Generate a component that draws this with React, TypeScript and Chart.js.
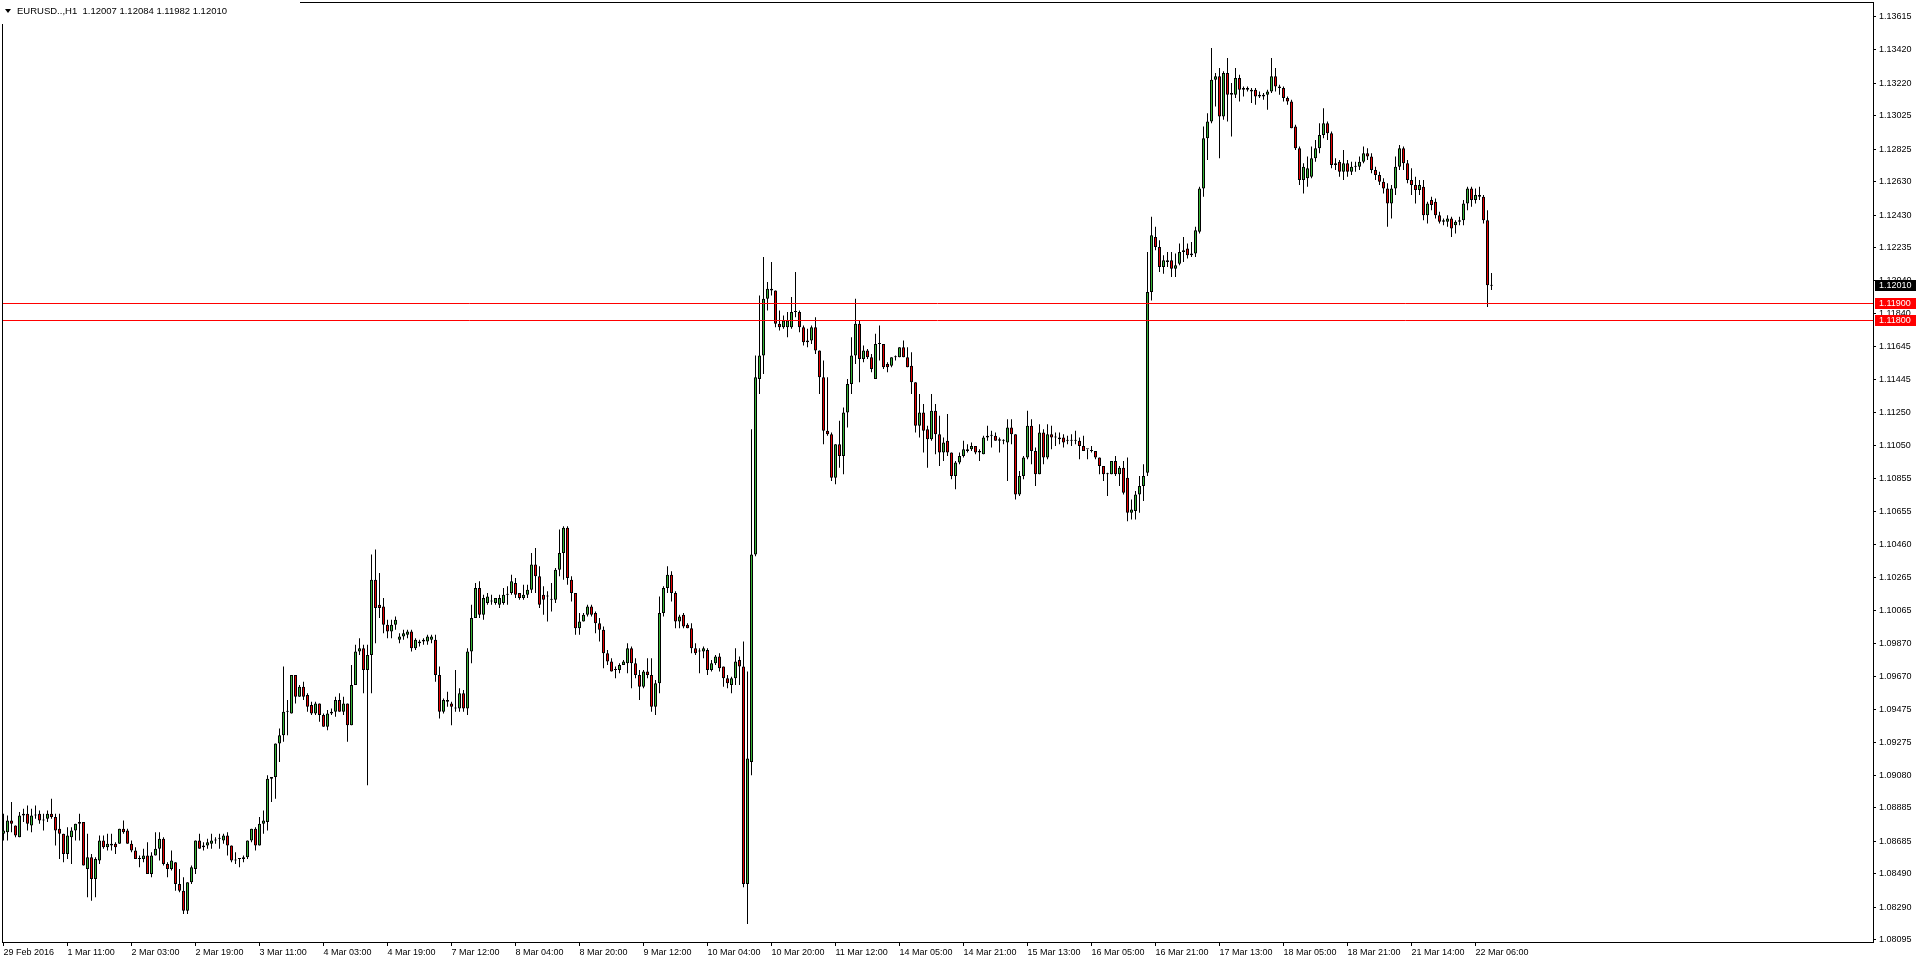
import React, { useEffect, useRef } from 'react';
import { Chart, registerables } from 'chart.js';

Chart.register(...registerables);

// Prices are stored in pips above PRICE_BASE (price = PRICE_BASE + value * PIP)
const PRICE_BASE = 1.08;
const PIP = 0.0001;

const opens = [
  73,74,81,78,71,84,85,78,84,85,
  81,82,85,83,76,73,61,71,75,79,
  80,52,59,46,57,69,65,66,67,67,
  76,75,67,63,58,58,60,49,60,64,
  70,55,52,56,43,39,27,44,52,69,
  65,66,67,69,70,69,72,66,57,58,
  58,59,69,76,66,79,80,106,107,127,
  132,146,145,168,155,161,156,150,145,151,
  144,137,145,146,153,146,151,138,162,182,
  184,171,180,225,210,209,198,194,198,189,
  191,192,194,184,188,188,188,189,189,168,
  146,153,151,148,148,157,148,182,202,220,
  204,211,212,211,210,211,216,217,223,217,
  214,216,219,234,227,216,215,213,213,231,
  241,256,225,217,196,200,204,209,205,199,
  195,181,176,171,171,174,175,184,175,168,
  161,170,168,149,163,205,220,228,217,200,
  204,198,196,184,182,182,183,171,175,179,
  173,166,162,166,177,173,43,116,240,345,
  359,393,399,398,378,376,376,376,385,385,
  376,368,368,376,362,346,314,312,286,306,
  299,325,342,359,378,357,362,358,345,366,
  366,354,353,358,358,364,358,353,343,317,
  325,315,309,326,312,301,308,301,287,295,
  299,302,303,305,302,300,310,311,311,309,
  308,307,316,312,276,287,298,317,302,288,
  313,298,312,310,310,310,308,308,308,308,
  305,303,302,302,298,293,288,288,296,288,
  292,286,265,266,276,281,289,397,430,424,
  412,416,416,411,414,421,423,419,420,433,
  459,489,499,524,526,502,528,515,515,525,
  518,519,517,518,515,514,515,517,526,520,
  519,513,511,496,483,464,465,466,477,483,
  491,498,492,473,475,469,474,469,472,472,
  475,480,478,470,467,463,459,450,459,472,
  483,474,464,461,458,460,443,452,451,443,
  440,439,441,437,439,440,450,459,452,455,
  454,440,400.7,
];

const highs = [
  85,84,92,78,86,88,90,88,90,87,
  85,87,94,85,85,73,77,77,79,85,
  80,73,61,59,72,72,73,73,68,76,
  81,76,69,65,60,64,68,62,74,74,
  71,56,63,56,52,47,44,54,69,73,
  68,70,73,71,73,73,74,66,62,58,
  60,69,76,77,83,87,108,107,127,136,
  173,153,168,168,162,164,157,152,152,151,
  145,147,148,155,157,155,151,174,186,190,
  186,186,240,243,229,214,201,201,203,193,
  195,195,195,190,189,190,192,192,192,173,
  154,158,152,171,160,159,184,210,223,224,
  216,217,216,214,216,220,221,228,226,217,
  222,222,241,244,233,221,218,223,232,255,
  257,257,227,217,205,205,210,210,206,202,
  197,183,178,173,175,177,187,185,178,171,
  171,178,178,165,215,221,233,230,218,204,
  205,199,199,187,184,185,184,177,180,181,
  173,168,167,184,179,188,170,315,359,395,
  418,403,415,398,386,383,385,394,409,386,
  377,375,377,382,362,356,346,313,306,320,
  328,345,370,393,380,365,363,360,372,377,
  366,355,358,359,364,368,364,361,343,336,
  330,317,336,330,323,310,324,301,296,301,
  308,306,307,305,303,311,317,314,313,310,
  309,321,321,312,290,299,326,321,304,318,
  315,318,317,313,313,312,311,312,314,310,
  311,303,305,302,298,293,289,296,299,293,
  296,298,273,278,287,294,421,442,436,428,
  419,421,421,420,426,430,426,427,436,460,
  496,504,543,528,531,529,537,522,531,527,
  520,520,519,519,517,516,518,537,531,521,
  520,514,512,497,484,474,478,484,488,498,
  507,499,493,477,476,482,476,475,475,478,
  484,483,480,472,469,465,462,461,478,485,
  484,476,471,466,464,464,451,454,453,445,
  441,443,442,440,442,452,460,460,459,460,
  455,446,408.4,
];

const lows = [
  69,69,74,71,71,80,75,74,82,79,
  75,80,82,66,58,56,58,55,69,69,
  54,35,33,35,55,64,63,63,61,67,
  73,67,62,58,53,56,49,47,60,57,
  54,47,51,39,38,25,25,43,49,64,
  63,64,64,67,64,67,60,56,55,53,
  56,58,68,63,66,73,75,92,94,116,
  128,132,145,151,155,153,146,144,144,140,
  137,135,144,143,146,144,128,138,162,180,
  157,102,157,187,202,193,190,190,195,187,
  189,190,182,183,185,186,186,187,164,142,
  145,149,138,146,146,146,144,175,202,202,
  201,210,210,210,208,210,210,216,214,213,
  213,214,217,217,208,204,200,206,211,227,
  225,222,212,192,192,200,203,203,193,188,
  172,174,170,166,169,174,169,160,166,153,
  160,166,146,144,157,203,217,212,196,196,
  196,196,181,180,169,178,168,170,174,170,
  161,160,157,162,162,41,19,108,239,336,
  348,386,395,376,374,375,370,375,382,373,
  365,364,366,360,336,306,311,284,282,292,
  288,316,336,354,343,355,357,349,345,356,
  351,349,352,356,358,358,352,336,313,310,
  301,292,308,300,293,296,299,285,279,294,
  298,301,302,300,296,300,308,304,308,301,
  306,284,306,273,275,285,297,294,281,288,
  294,297,303,305,306,304,306,305,306,297,
  302,297,301,297,288,284,275,288,287,281,
  276,260,261,261,265,272,287,392,422,409,
  408,412,406,406,413,415,417,418,418,432,
  454,476,498,508,477,500,499,490,513,511,
  514,517,510,509,513,512,506,516,517,515,
  511,509,495,482,461,456,460,465,475,480,
  489,488,471,470,466,464,466,467,469,470,
  474,476,468,464,461,456,436,441,455,470,
  470,462,455,450,455,440,438,446,441,438,
  437,436,430,432,437,437,446,448,450,452,
  438,388,398.2,
];

const closes = [
  75,81,79,72,84,85,79,84,84,81,
  81,85,83,75,73,61,72,75,79,80,
  54,59,46,58,69,65,67,67,65,76,
  74,67,63,58,58,60,49,60,64,70,
  55,52,57,43,39,27,44,53,69,64,
  66,68,69,69,70,72,66,57,57,58,
  59,69,76,66,79,81,106,107,127,132,
  146,146,168,155,161,155,149,145,151,144,
  137,145,146,153,146,151,138,162,182,184,
  171,180,225,208,208,198,194,198,201,191,
  193,194,184,189,187,189,191,191,168,146,
  153,152,149,148,157,148,182,202,220,204,
  214,215,212,214,214,216,216,224,216,214,
  216,219,234,227,210,213,215,213,231,241,
  256,226,217,196,200,204,209,204,199,195,
  181,176,170,171,174,176,184,175,168,161,
  170,168,149,163,205,220,228,217,200,203,
  197,196,184,181,182,184,171,175,179,172,
  166,163,166,176,173,43,118,240,346,359,
  393,399,398,378,376,380,380,385,385,376,
  367,367,376,362,346,314,312,286,306,299,
  325,342,359,378,357,362,358,351,366,366,
  352,352,358,358,364,358,352,343,317,325,
  314,309,326,312,301,307,301,287,295,299,
  303,303,305,301,301,310,311,311,308,308,
  308,316,312,276,287,298,317,302,288,313,
  298,312,310,310,309,307,308,308,308,305,
  302,303,302,298,293,288,288,296,288,292,
  277,265,267,276,281,287,397,431,424,412,
  416,415,411,413,421,422,419,420,434,459,
  489,499,524,526,502,528,515,516,525,518,
  519,518,518,514,514,515,517,526,520,519,
  513,511,495,483,464,472,471,477,483,491,
  498,492,473,474,469,474,469,472,472,475,
  480,478,470,467,463,459,450,459,472,483,
  474,464,461,458,461,443,450,449,443,439,
  439,441,435,439,440,450,459,452,455,454,
  440,401,401,
];

const xTickLabels = [
  '29 Feb 2016', '1 Mar 11:00', '2 Mar 03:00', '2 Mar 19:00', '3 Mar 11:00', '4 Mar 03:00',
  '4 Mar 19:00', '7 Mar 12:00', '8 Mar 04:00', '8 Mar 20:00', '9 Mar 12:00', '10 Mar 04:00',
  '10 Mar 20:00', '11 Mar 12:00', '14 Mar 05:00', '14 Mar 21:00', '15 Mar 13:00', '16 Mar 05:00',
  '16 Mar 21:00', '17 Mar 13:00', '18 Mar 05:00', '18 Mar 21:00', '21 Mar 14:00', '22 Mar 06:00',
];
const BARS_PER_TIME_LABEL = 16;

const yTickLabels = [
  '1.13615', '1.13420', '1.13220', '1.13025', '1.12825', '1.12630', '1.12430', '1.12235',
  '1.12040', '1.11840', '1.11645', '1.11445', '1.11250', '1.11050', '1.10855', '1.10655',
  '1.10460', '1.10265', '1.10065', '1.09870', '1.09670', '1.09475', '1.09275', '1.09080',
  '1.08885', '1.08685', '1.08490', '1.08290', '1.08095',
];

const levelLines = [1.119, 1.118];
const symbolLabel = 'EURUSD..,H1';

// view window (MT4 style: fixed bar spacing, empty space to the right)
const X_MIN = -0.375;
const X_MAX = 467.375;
const Y_MIN = 1.08083;
const Y_MAX = 1.137047;

const BULL = '#36b436';
const BEAR = '#e60000';
const FONT = "'Liberation Sans', Arial, sans-serif";

const toPrice = (p: number) => PRICE_BASE + p * PIP;
const fmt = (p: number) => toPrice(p).toFixed(5);

const overlayPlugin = {
  id: 'mt4overlay',
  afterDatasetsDraw(chart: any) {
    const { ctx, chartArea: a, scales } = chart;
    const ys = scales.y;
    ctx.save();
    ctx.strokeStyle = '#ff0000';
    ctx.lineWidth = 1;
    levelLines.forEach((v) => {
      const py = Math.floor(ys.getPixelForValue(v)) + 0.5;
      ctx.beginPath();
      ctx.moveTo(a.left, py);
      ctx.lineTo(a.right, py);
      ctx.stroke();
    });
    ctx.restore();
  },
  afterDraw(chart: any) {
    const { ctx, chartArea: a, scales, width } = chart;
    const ys = scales.y;
    ctx.save();
    // frame
    ctx.strokeStyle = '#000';
    ctx.lineWidth = 1;
    ctx.strokeRect(a.left + 0.5, a.top + 0.5, a.right - a.left, a.bottom - a.top);

    // price markers on the axis
    ctx.font = `9px ${FONT}`;
    ctx.textBaseline = 'middle';
    ctx.textAlign = 'left';
    const drawBox = (value: number, bg: string, text: string) => {
      const py = Math.floor(ys.getPixelForValue(value));
      ctx.fillStyle = bg;
      ctx.fillRect(a.right + 2, py - 5, width - a.right - 2, 11);
      ctx.fillStyle = '#fff';
      ctx.fillText(text, a.right + 6, py + 0.5);
    };
    levelLines.forEach((v) => drawBox(v, '#ff0000', v.toFixed(5)));
    const last = closes.length - 1;
    drawBox(toPrice(closes[last]), '#000', fmt(closes[last]));

    // symbol label
    ctx.fillStyle = '#fff';
    ctx.fillRect(0, 0, 300, 24);
    ctx.fillStyle = '#000';
    ctx.beginPath();
    ctx.moveTo(5, 9);
    ctx.lineTo(11, 9);
    ctx.lineTo(8, 13);
    ctx.closePath();
    ctx.fill();
    ctx.font = `9.5px ${FONT}`;
    const txt = `${symbolLabel}  ${fmt(opens[last])} ${fmt(highs[last])} ${fmt(lows[last])} ${fmt(closes[last])}`;
    ctx.fillText(txt, 17, 11);
    ctx.restore();
  },
};

export default function App() {
  const ref = useRef<HTMLCanvasElement>(null);

  useEffect(() => {
    if (!ref.current) return;
    const bodies = closes.map((c, i) => ({ x: i, y: [toPrice(opens[i]), toPrice(c)] }));
    const wicks = closes.map((_, i) => ({ x: i, y: [toPrice(lows[i]), toPrice(highs[i])] }));
    const bodyColors = closes.map((c, i) => (c >= opens[i] ? BULL : BEAR));

    const zeroPad = (s: any) => {
      s.paddingTop = 0;
      s.paddingBottom = 0;
      s.paddingLeft = 0;
      s.paddingRight = 0;
    };

    const chart = new Chart(ref.current, {
      type: 'bar',
      data: {
        datasets: [
          {
            label: 'body',
            data: bodies as any,
            backgroundColor: bodyColors,
            borderColor: '#000',
            borderWidth: 1,
            borderSkipped: false,
            barThickness: 3,
            minBarLength: 1,
            grouped: false,
            inflateAmount: 0,
          } as any,
          {
            label: 'wick',
            data: wicks as any,
            backgroundColor: '#000',
            borderWidth: 0,
            barThickness: 1,
            grouped: false,
            inflateAmount: 0,
          } as any,
        ],
      },
      options: {
        responsive: false,
        maintainAspectRatio: false,
        devicePixelRatio: 1,
        animation: false,
        events: [],
        layout: { autoPadding: false, padding: { left: 2, top: 2, right: 0, bottom: 0 } } as any,
        plugins: { legend: { display: false }, tooltip: { enabled: false }, title: { display: false } },
        scales: {
          x: {
            type: 'linear',
            min: X_MIN,
            max: X_MAX,
            bounds: 'data',
            offset: false,
            afterFit: (s: any) => { s.height = 22; zeroPad(s); },
            afterBuildTicks: (s: any) => {
              s.ticks = xTickLabels.map((_, k) => ({ value: k * BARS_PER_TIME_LABEL }));
            },
            ticks: {
              callback: (_v: any, i: number) => xTickLabels[i],
              align: 'start',
              maxRotation: 0,
              minRotation: 0,
              autoSkip: false,
              padding: 1,
              color: '#000',
              font: { family: FONT, size: 9 },
            },
            grid: { drawOnChartArea: false, offset: false, tickLength: 4, color: '#000', tickColor: '#000' },
            border: { display: false },
          } as any,
          y: {
            type: 'linear',
            position: 'right',
            min: Y_MIN,
            max: Y_MAX,
            bounds: 'data',
            afterFit: (s: any) => { s.width = 43; zeroPad(s); },
            afterBuildTicks: (s: any) => {
              s.ticks = yTickLabels.map((t) => ({ value: parseFloat(t) }));
            },
            ticks: {
              callback: (_v: any, i: number) => yTickLabels[i],
              autoSkip: false,
              padding: 3,
              color: '#000',
              font: { family: FONT, size: 9 },
            },
            grid: { drawOnChartArea: false, tickLength: 3, color: '#000', tickColor: '#000' },
            border: { display: false },
          } as any,
        },
      },
      plugins: [overlayPlugin],
    });
    return () => chart.destroy();
  }, []);

  return (
    <div style={{ position: 'absolute', left: 0, top: 0, width: 1916, height: 964, background: '#fff' }}>
      <canvas ref={ref} width={1916} height={964} style={{ display: 'block', width: 1916, height: 964 }} />
    </div>
  );
}
